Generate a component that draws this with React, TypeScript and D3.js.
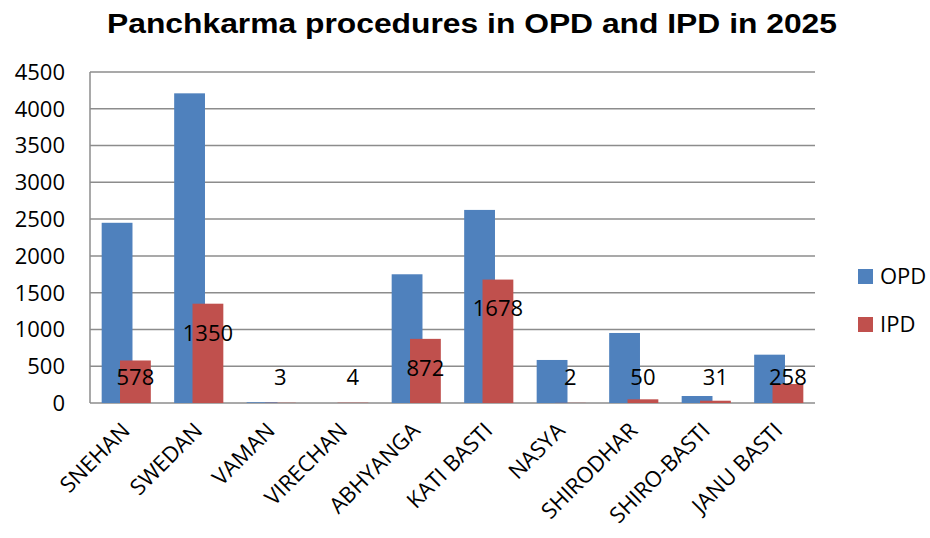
import React, { useRef, useEffect } from "react";
import * as d3 from "d3";

const categories = ["SNEHAN", "SWEDAN", "VAMAN", "VIRECHAN", "ABHYANGA", "KATI BASTI", "NASYA", "SHIRODHAR", "SHIRO-BASTI", "JANU BASTI"];
const opdValues = [2450, 4210, 10, 0, 1750, 2625, 585, 952, 95, 657];
const ipdValues = [578, 1350, 3, 4, 872, 1678, 2, 50, 31, 258];
const yTicks = [0, 500, 1000, 1500, 2000, 2500, 3000, 3500, 4000, 4500];
const seriesNames = ["OPD", "IPD"];
const seriesColors = ["#4f81bd", "#c0504d"];

const W = 930;
const H = 538;
const margin = { left: 90, right: 115, top: 72, bottom: 135 };

const App = () => {
  const svgRef = useRef<SVGSVGElement>(null);

  useEffect(() => {
    const svg = d3.select(svgRef.current);
    svg.selectAll("*").remove();

    const x = d3.scaleBand().domain(categories).range([margin.left, W - margin.right]);
    const y = d3.scaleLinear().domain([0, 4500]).range([H - margin.bottom, margin.top]);
    const bw = x.bandwidth();
    const barW = bw * 0.425;
    const opdOff = bw * 0.161;
    const ipdOff = bw * 0.414;
    const font = "'Open Sans', 'Noto Sans', sans-serif";

    svg.append("text")
      .attr("x", 472).attr("y", 33)
      .attr("text-anchor", "middle")
      .attr("font-family", "'Liberation Sans', Arial, sans-serif")
      .attr("font-weight", "bold").attr("font-size", 27)
      .attr("textLength", 730).attr("lengthAdjust", "spacingAndGlyphs")
      .text("Panchkarma procedures in OPD and IPD in 2025");

    // gridlines
    svg.append("g").selectAll("line").data(yTicks).join("line")
      .attr("x1", margin.left).attr("x2", W - margin.right)
      .attr("y1", d => y(d)).attr("y2", d => y(d))
      .attr("stroke", "#8c8c8c").attr("stroke-width", 1.5);

    svg.append("line")
      .attr("x1", margin.left).attr("x2", margin.left)
      .attr("y1", y(4500)).attr("y2", y(0))
      .attr("stroke", "#8c8c8c").attr("stroke-width", 1.5);

    svg.append("g").selectAll("text").data(yTicks).join("text")
      .attr("x", 65).attr("y", d => y(d)).attr("dy", "0.36em")
      .attr("text-anchor", "end")
      .attr("font-family", font).attr("font-size", 22)
      .text(d => d);

    svg.append("g").selectAll("rect").data(opdValues).join("rect")
      .attr("x", (d, i) => x(categories[i])! + opdOff)
      .attr("y", d => y(d))
      .attr("width", barW)
      .attr("height", d => y(0) - y(d))
      .attr("fill", seriesColors[0]);

    svg.append("g").selectAll("rect").data(ipdValues).join("rect")
      .attr("x", (d, i) => x(categories[i])! + ipdOff)
      .attr("y", d => y(d))
      .attr("width", barW)
      .attr("height", d => y(0) - y(d))
      .attr("fill", seriesColors[1]);

    // data labels
    svg.append("g").selectAll("text").data(ipdValues).join("text")
      .attr("x", (d, i) => x(categories[i])! + ipdOff + barW / 2)
      .attr("y", d => Math.min(y(d) + 29, y(0) - 26))
      .attr("dy", "0.36em")
      .attr("text-anchor", "middle")
      .attr("font-family", font).attr("font-size", 22)
      .text(d => d);

    svg.append("g").selectAll("text").data(categories).join("text")
      .attr("transform", d => `translate(${x(d)! + bw / 2 + 5},${y(0) + 29}) rotate(-45)`)
      .attr("text-anchor", "end")
      .attr("font-family", font).attr("font-size", 22)
      .text(d => d);

    const legend = svg.append("g").selectAll("g").data(seriesNames).join("g")
      .attr("transform", (d, i) => `translate(858,${276 + i * 48})`);
    legend.append("rect").attr("x", 0).attr("y", -7).attr("width", 15).attr("height", 15)
      .attr("fill", (d, i) => seriesColors[i]);
    legend.append("text").attr("x", 22).attr("y", 0).attr("dy", "0.36em")
      .attr("font-family", font).attr("font-size", 22)
      .text(d => d);
  }, []);

  return (
    <svg ref={svgRef} width={W} height={H} style={{ position: "absolute", left: 0, top: 0, background: "#fff" }} />
  );
};

export default App;
